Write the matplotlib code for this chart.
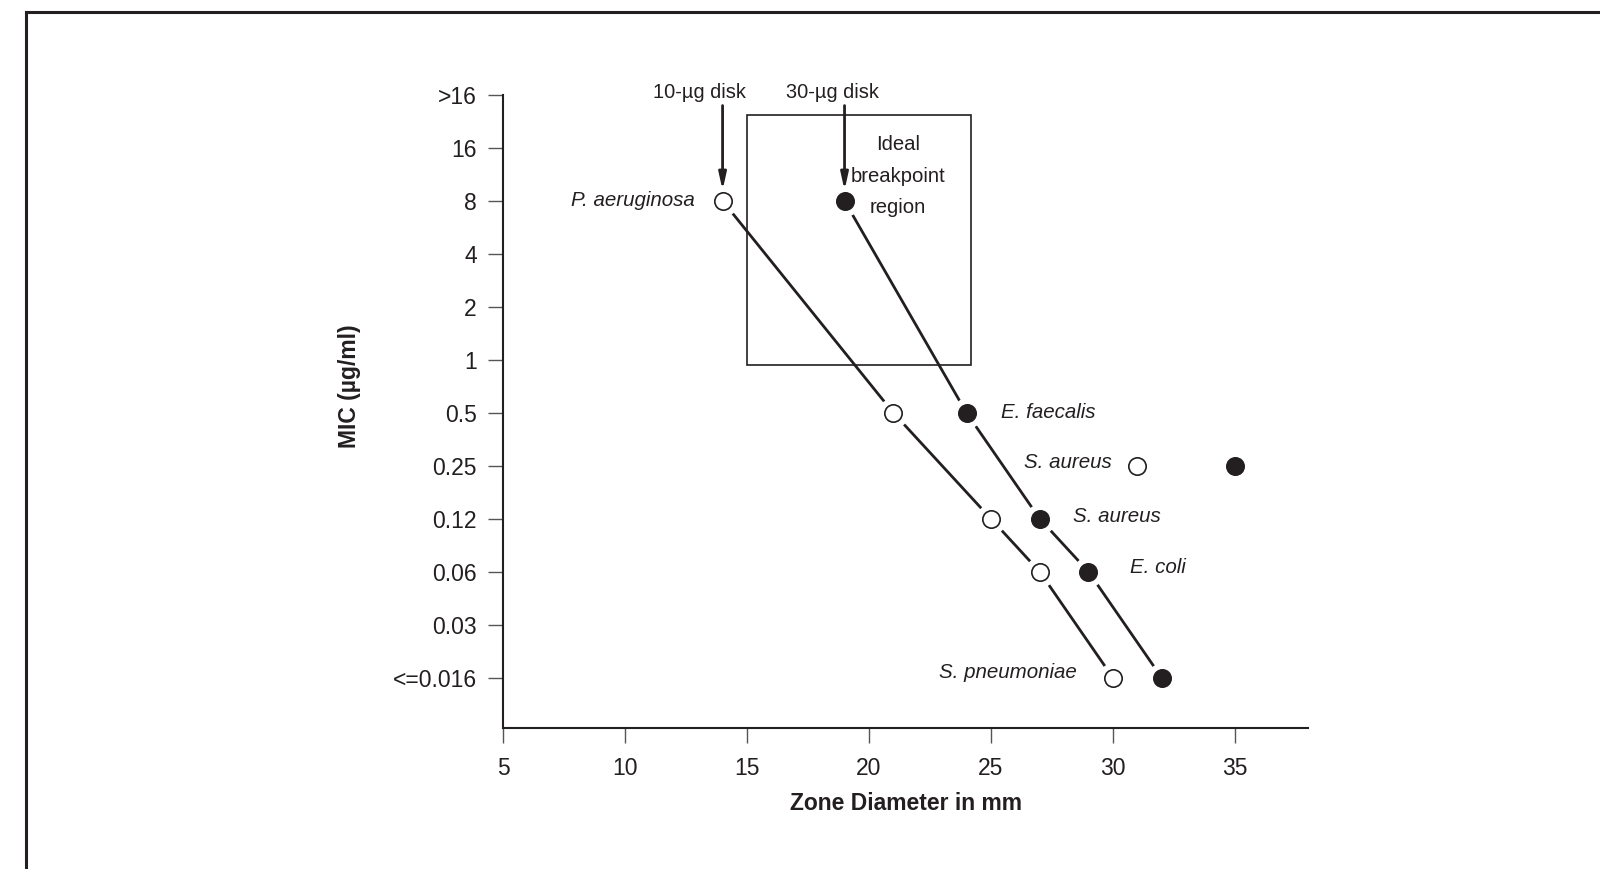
import matplotlib
matplotlib.use("Agg")
import matplotlib.pyplot as plt
from matplotlib.lines import Line2D
from matplotlib.patches import Rectangle

plt.rcParams['font.family'] = ['Liberation Sans', 'DejaVu Sans']

# Data
mic_labels = ["<=0.016", "0.03", "0.06", "0.12", "0.25", "0.5", "1", "2", "4", "8", "16", ">16"]
x_ticks = [5, 10, 15, 20, 25, 30, 35]

# 10-µg disk (open circles), connected
disk10_zone = [14, 21, 25, 27, 30]
disk10_mic = ["8", "0.5", "0.12", "0.06", "<=0.016"]
# 30-µg disk (filled circles), connected
disk30_zone = [19, 24, 27, 29, 32]
disk30_mic = ["8", "0.5", "0.12", "0.06", "<=0.016"]
# S. aureus isolated points
saureus10_zone, saureus10_mic = 31, "0.25"
saureus30_zone, saureus30_mic = 35, "0.25"

# Ideal breakpoint box (zone mm, MIC index)
box_x = (15, 24.2)
box_y = (5.9, 10.62)

ink = '#231f20'

def yi(lbl):
    return mic_labels.index(lbl)

fig = plt.figure(figsize=(16, 8.69), dpi=100)
ax = fig.add_axes([0.3144, 0.1627, 0.8175 - 0.3144, 0.8907 - 0.1627])

# figure frame (top and left visible)
fig.add_artist(Line2D([26/1600, 1.0], [1 - 12/869, 1 - 12/869], transform=fig.transFigure, color=ink, lw=2.2))
fig.add_artist(Line2D([26/1600, 26/1600], [0.0, 1 - 12/869], transform=fig.transFigure, color=ink, lw=2.2))

MS = 12.5
HALO = 21

def draw_series(xs, ys_lbl, filled):
    ys = [yi(l) for l in ys_lbl]
    ax.plot(xs, ys, color=ink, lw=2.0, zorder=2, solid_capstyle='butt')
    ax.plot(xs, ys, linestyle='none', marker='o', markersize=HALO, markerfacecolor='white',
            markeredgecolor='white', zorder=3)
    ax.plot(xs, ys, linestyle='none', marker='o', markersize=MS,
            markerfacecolor=ink if filled else 'white', markeredgecolor=ink,
            markeredgewidth=1.2, zorder=4)

draw_series(disk10_zone, disk10_mic, False)
draw_series(disk30_zone, disk30_mic, True)
ax.plot([saureus10_zone], [yi(saureus10_mic)], linestyle='none', marker='o', markersize=MS,
        markerfacecolor='white', markeredgecolor=ink, markeredgewidth=1.2, zorder=4)
ax.plot([saureus30_zone], [yi(saureus30_mic)], linestyle='none', marker='o', markersize=MS,
        markerfacecolor=ink, markeredgecolor=ink, markeredgewidth=1.2, zorder=4)

# Box
ax.add_patch(Rectangle((box_x[0], box_y[0]), box_x[1] - box_x[0], box_y[1] - box_y[0],
                       fill=False, edgecolor=ink, lw=1.2, zorder=1))
ax.text(21.2, 9.47, "Ideal\nbreakpoint\nregion", ha='center', va='center', fontsize=14.6,
        color=ink, linespacing=1.85)

# Arrows
for xd, lbl, tx in [(14, "10-µg disk", 13.05), (19, "30-µg disk", 18.5)]:
    ax.annotate("", xy=(xd, 9.2), xytext=(xd, 10.8),
                arrowprops=dict(arrowstyle='-|>,head_length=1.0,head_width=0.22', lw=2.0, color=ink,
                                shrinkA=0, shrinkB=0))
    ax.text(tx, 10.86, lbl, ha='center', va='bottom', fontsize=14.4, color=ink)

# Species labels
fs = 14.8
ax.text(12.85, 9.0, "P. aeruginosa", ha='right', va='center', style='italic', fontsize=fs, color=ink)
ax.text(25.4, 5.0, "E. faecalis", ha='left', va='center', style='italic', fontsize=fs, color=ink)
ax.text(29.95, 4.07, "S. aureus", ha='right', va='center', style='italic', fontsize=fs, color=ink)
ax.text(28.35, 3.05, "S. aureus", ha='left', va='center', style='italic', fontsize=fs, color=ink)
ax.text(30.7, 2.08, "E. coli", ha='left', va='center', style='italic', fontsize=fs, color=ink)
ax.text(28.5, 0.1, "S. pneumoniae", ha='right', va='center', style='italic', fontsize=fs, color=ink)

# Axes styling
ax.set_xlim(5, 38)
ax.set_ylim(-0.944, 11)
ax.set_xticks(x_ticks)
ax.set_xticklabels([str(t) for t in x_ticks])
ax.set_yticks(range(len(mic_labels)))
ax.set_yticklabels(mic_labels)
for s in ['top', 'right']:
    ax.spines[s].set_visible(False)
for s in ['left', 'bottom']:
    ax.spines[s].set_linewidth(1.5)
    ax.spines[s].set_color(ink)
ax.tick_params(axis='both', direction='out', length=11, width=1.0, color='#555555',
               labelsize=16.5, labelcolor=ink)
ax.tick_params(axis='y', pad=8)
ax.tick_params(axis='x', pad=10)

ax.set_xlabel("Zone Diameter in mm", fontsize=16.5, fontweight='bold', color=ink, labelpad=9)
ax.set_ylabel("MIC (µg/ml)", fontsize=16.5, fontweight='bold', color=ink)
ax.yaxis.set_label_coords(-0.176, 0.54)

fig.savefig("out.png", dpi=100)
